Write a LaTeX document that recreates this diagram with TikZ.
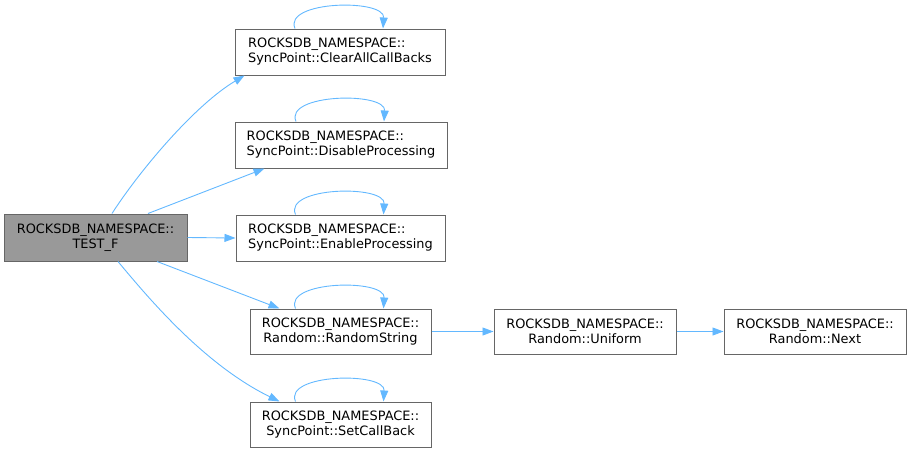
\documentclass[tikz,border=0pt]{standalone}
\usepackage{fontspec}
\setmainfont{DejaVu Sans}
\usetikzlibrary{arrows.meta}
\definecolor{edgeblue}{HTML}{63B8FF}
\definecolor{boxborder}{HTML}{666666}
\definecolor{mainfill}{HTML}{999999}
\begin{document}
\begin{tikzpicture}[x=1pt,y=-1pt,
  fn/.style={draw=boxborder,fill=white,line width=1pt,rectangle,align=center,inner sep=0pt,
    font=\fontsize{12.9}{15}\selectfont,text=black},
  fnl/.style={fn,align=left},
  mainbox/.style={fn,fill=mainfill},
  edge/.style={draw=edgeblue,line width=0.9pt,-{Triangle[length=11pt,width=8pt]}}]
\useasboundingbox (0,0) rectangle (911,453);
\node[mainbox,minimum width=183pt,minimum height=47pt] (t) at (95.5,237.5) {ROCKSDB\_NAMESPACE::\\TEST\_F};
\node[fnl,minimum width=210pt,minimum height=46pt] (c1) at (340,52) {ROCKSDB\_NAMESPACE::\\SyncPoint::ClearAllCallBacks};
\node[fnl,minimum width=212pt,minimum height=46pt] (c2) at (341,145) {ROCKSDB\_NAMESPACE::\\SyncPoint::DisableProcessing};
\node[fnl,minimum width=209pt,minimum height=46pt] (c3) at (340.5,238) {ROCKSDB\_NAMESPACE::\\SyncPoint::EnableProcessing};
\node[fn,minimum width=181pt,minimum height=45pt] (c4) at (340.5,331.5) {ROCKSDB\_NAMESPACE::\\Random::RandomString};
\node[fn,minimum width=182pt,minimum height=45pt] (c5) at (585,331.5) {ROCKSDB\_NAMESPACE::\\Random::Uniform};
\node[fn,minimum width=182pt,minimum height=45pt] (c6) at (815,331.5) {ROCKSDB\_NAMESPACE::\\Random::Next};
\node[fn,minimum width=181pt,minimum height=45pt] (c7) at (340.5,424.5) {ROCKSDB\_NAMESPACE::\\SyncPoint::SetCallBack};
% edges from TEST_F
\draw[edge] ([xshift=16.5pt]t.north) .. controls (140,170) and (195,105) .. ([xshift=10pt]c1.south west);
\draw[edge] ([xshift=52.5pt]t.north) -- ([xshift=30pt]c2.south west);
\draw[edge] (t.east) -- (c3.west);
\draw[edge] ([xshift=61.5pt]t.south) -- ([xshift=30pt]c4.north west);
\draw[edge] ([xshift=22.5pt]t.south) .. controls (150,300) and (205,365) .. ([xshift=30pt]c7.north west);
\draw[edge] (c4.east) -- (c5.west);
\draw[edge] (c5.east) -- (c6.west);
% self loops
\foreach \n in {c1,c2,c3,c4,c7}{
  \draw[edge] ([xshift=-45pt]\n.north) .. controls +(-12,-28) and +(2,-30) .. ([xshift=43pt]\n.north);
}
\end{tikzpicture}
\end{document}
